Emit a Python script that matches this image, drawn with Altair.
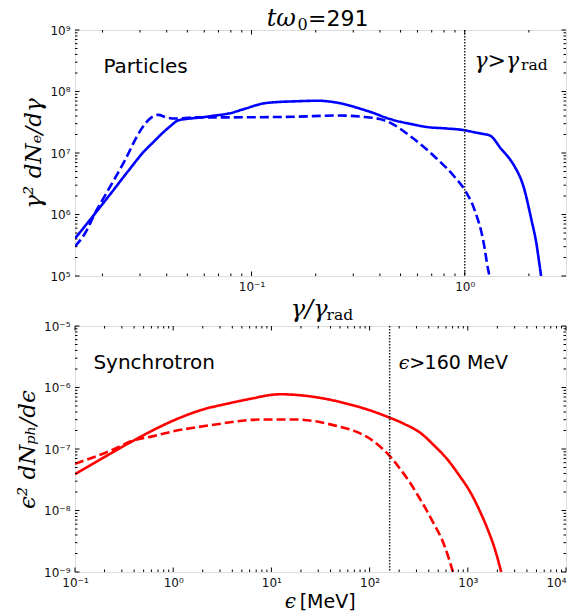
import altair as alt
import pandas as pd

# ---------------- values ----------------
# Top panel: electrons, x = gamma/gamma_rad, y = gamma^2 dN_e/dgamma
e_solid_x = [0.01486, 0.01820, 0.02208, 0.02630, 0.03162, 0.03467, 0.03784, 0.04169,
             0.04529, 0.05129, 0.05834, 0.06761, 0.07780, 0.09333, 0.1114, 0.1349,
             0.1596, 0.2042, 0.2594, 0.3304, 0.3802, 0.4217, 0.4699, 0.5623, 0.6730,
             0.8128, 1.0, 1.096, 1.219, 1.318, 1.486, 1.603, 1.714, 1.888, 2.056,
             2.168, 2.239, 2.265, 2.280]
e_solid_y = [4.07e5, 9.77e5, 2.29e6, 5.01e6, 1.10e7, 1.51e7, 2.04e7, 2.75e7,
             3.39e7, 3.63e7, 3.80e7, 4.07e7, 4.37e7, 5.25e7, 6.31e7, 6.76e7,
             6.92e7, 7.08e7, 6.46e7, 5.13e7, 4.37e7, 3.80e7, 3.39e7, 2.95e7, 2.63e7,
             2.51e7, 2.34e7, 2.19e7, 2.04e7, 1.91e7, 1.15e7, 8.51e6, 6.03e6, 2.82e6, 8.13e5,
             3.39e5, 1.58e5, 1.20e5, 1.0e5]
e_dash_x = [0.01486, 0.01660, 0.01845, 0.02128, 0.02547, 0.02944, 0.03162, 0.03396,
            0.03656, 0.03981, 0.04375, 0.05420, 0.07780, 0.1596, 0.2547, 0.3311,
            0.4217, 0.5623, 0.7228, 0.8974, 1.0, 1.114, 1.219, 1.288, 1.306]
e_dash_y = [3.02e5, 5.01e5, 1.05e6, 2.51e6, 7.59e6, 2.04e7, 2.95e7, 3.80e7,
            4.17e7, 3.80e7, 3.63e7, 3.80e7, 3.80e7, 3.89e7, 4.07e7, 3.89e7,
            3.39e7, 1.82e7, 8.71e6, 4.07e6, 2.51e6, 1.17e6, 3.89e5, 1.26e5, 1.0e5]

# Bottom panel: synchrotron photons, x = eps [MeV], y = eps^2 dN_ph/deps
p_solid_x = [0.1, 0.1995, 0.3491, 0.6310, 0.9638, 1.995, 3.639, 6.310, 10.0, 12.59,
             23.66, 39.81, 64.42, 100.0, 159.2, 223.9, 336.5, 446.7, 628.1, 794.3,
             1086.0, 1318.0, 1607.0, 1905.0, 2188.0]
p_solid_y = [3.89e-8, 7.41e-8, 1.23e-7, 2.04e-7, 2.82e-7, 4.37e-7, 5.50e-7, 6.61e-7,
             7.59e-7, 7.76e-7, 7.24e-7, 6.31e-7, 5.25e-7, 4.27e-7, 3.24e-7, 2.57e-7,
             1.78e-7, 1.17e-7, 6.61e-8, 3.98e-8, 1.86e-8, 1.0e-8, 4.79e-9, 2.24e-9, 1.0e-9]
p_dash_x = [0.1, 0.2360, 0.3926, 0.6310, 0.9638, 2.455, 7.925, 17.30, 28.18, 44.67,
            70.47, 100.0, 131.8, 166.0, 195.0, 251.2, 311.9, 425.6, 580.8, 706.3]
p_dash_y = [5.75e-8, 9.55e-8, 1.38e-7, 1.62e-7, 1.91e-7, 2.45e-7, 3.02e-7, 3.02e-7,
            2.82e-7, 2.40e-7, 1.95e-7, 1.48e-7, 1.05e-7, 7.24e-8, 5.25e-8, 3.02e-8,
            1.74e-8, 7.24e-9, 2.63e-9, 1.0e-9]

gamma_cut = [1.0]
eps_cut = [160.0]

top_x_domain = [0.01486, 2.985]
top_y_domain = [1e5, 1e9]
bot_x_domain = [0.1, 1e4]
bot_y_domain = [1e-9, 1e-5]

top_x_major = [0.1, 1.0]
top_y_major = [1e5, 1e6, 1e7, 1e8, 1e9]
bot_x_major = [0.1, 1.0, 10.0, 100.0, 1000.0, 10000.0]
bot_y_major = [1e-9, 1e-8, 1e-7, 1e-6, 1e-5]


def minors(domain, k0, k1):
    out = []
    for k in range(k0, k1 + 1):
        for m in range(2, 10):
            v = m * 10.0 ** k
            if domain[0] * 1.0001 < v < domain[1] * 0.9999:
                out.append(v)
    return out


top_x_minor = minors(top_x_domain, -2, 0)
top_y_minor = minors(top_y_domain, 5, 8)
bot_x_minor = minors(bot_x_domain, -1, 3)
bot_y_minor = minors(bot_y_domain, -9, -6)

# ---------------- styling ----------------
W, H = 491, 246
SANS = "DejaVu Sans"
SERIF = "DejaVu Serif"
BLUE = "#0000ff"
RED = "#ff0000"

SUP = {'-': '⁻', '0': '⁰', '1': '¹', '2': '²', '3': '³', '4': '⁴',
       '5': '⁵', '6': '⁶', '7': '⁷', '8': '⁸', '9': '⁹'}
labels = ["10" + "".join(SUP[c] for c in str(e)) for e in range(-9, 10)]
LBL = "[" + ",".join("'" + s + "'" for s in labels) + "][round(log(datum.value)/LN10)+9]"


def xaxis(values):
    return alt.Axis(values=values, labelExpr=LBL, ticks=False, domain=False, grid=False,
                    title=None, labelFlush=False, labelPadding=5, labelFont=SANS,
                    labelFontSize=12, labelColor="#111111",
                    labelAlign={"condition": {"test": "datum.value > 5000", "value": "right"},
                                "value": "center"})


def yaxis(values, title):
    return alt.Axis(values=values, labelExpr=LBL, ticks=False, domain=False, grid=False,
                    title=title, titleFont=SERIF, titleFontStyle="italic",
                    titleFontWeight="normal", titleFontSize=23, titleColor="black",
                    titlePadding=4, labelPadding=5, labelFont=SANS, labelFontSize=12,
                    labelColor="#111111")


def tick_layers(xmaj, xmin, ymaj, ymin, xs, ys, xa, ya):
    out = []
    for xv, yv, L in [(xmaj, ymaj, 4.5), (xmin, ymin, 2.5)]:
        dy = pd.DataFrame({"y": yv})
        dx = pd.DataFrame({"x": xv})
        base_y = alt.Chart(dy).mark_rule(color="black", strokeWidth=1)
        base_x = alt.Chart(dx).mark_rule(color="black", strokeWidth=1)
        Y = alt.Y("y:Q", scale=ys, axis=ya)
        X = alt.X("x:Q", scale=xs, axis=xa)
        out.append(base_y.encode(y=Y, x=alt.value(0), x2=alt.value(L)))
        out.append(base_y.encode(y=Y, x=alt.value(W), x2=alt.value(W - L)))
        out.append(base_x.encode(x=X, y=alt.value(0), y2=alt.value(L)))
        out.append(base_x.encode(x=X, y=alt.value(H), y2=alt.value(H - L)))
    return out


def txt(s, x, y, size, font, style="normal", align="left", baseline="alphabetic"):
    return alt.Chart(pd.DataFrame({"t": [s]})).mark_text(
        align=align, baseline=baseline, font=font, fontSize=size, fontStyle=style,
        color="black").encode(text="t:N", x=alt.value(x), y=alt.value(y))


def panel(sx, sy, dx, dy, color, cut, xdom, ydom, xmaj, xmin, ymaj, ymin, ytitle, texts):
    df = pd.DataFrame({
        "x": list(sx) + list(dx),
        "y": list(sy) + list(dy),
        "kind": ["solid"] * len(sx) + ["dashed"] * len(dx),
    })
    xs = alt.Scale(type="log", domain=xdom, nice=False)
    ys = alt.Scale(type="log", domain=ydom, nice=False)
    xa = xaxis(xmaj)
    ya = yaxis(ymaj, ytitle)
    lines = alt.Chart(df).mark_line(color=color, strokeWidth=2.6, clip=True,
                                    interpolate="monotone").encode(
        x=alt.X("x:Q", scale=xs, axis=xa),
        y=alt.Y("y:Q", scale=ys, axis=ya),
        strokeDash=alt.StrokeDash("kind:N", scale=alt.Scale(domain=["solid", "dashed"],
                                  range=[[1, 0], [9, 4]]), legend=None),
        order=alt.Order("x:Q"),
    )
    vline = alt.Chart(pd.DataFrame({"x": cut})).mark_rule(
        color="#222222", strokeWidth=1.5, strokeDash=[1.5, 1.5]).encode(
        x=alt.X("x:Q", scale=xs, axis=xa))
    layers = [lines, vline] + tick_layers(xmaj, xmin, ymaj, ymin, xs, ys, xa, ya) + texts
    return alt.layer(*layers).properties(width=W, height=H)


top_texts = [
    txt("tω", 191.7, -4.5, 24, SERIF, "italic"),
    txt("0", 222.5, -0.5, 16, SERIF),
    txt("=291", 233.0, -4.5, 22, SANS),
    txt("Particles", 28.4, 43.4, 20, SANS),
    txt("γ>γ", 399.4, 37.7, 22, SERIF, "italic"),
    txt("rad", 446.0, 39.5, 15.5, SERIF),
    txt("γ/γ", 215.7, 287.4, 24, SERIF, "italic"),
    txt("rad", 251.5, 290.0, 15.5, SERIF),
]
bot_texts = [
    txt("Synchrotron", 18.4, 42.6, 20, SANS),
    txt("ϵ>", 323.7, 42.6, 19, SERIF, "italic"),
    txt("160 MeV", 349.6, 42.6, 19, SANS),
    txt("ϵ", 209.7, 281.6, 20, SERIF, "italic"),
    txt("[MeV]", 224.7, 281.6, 19, SANS),
]

top = panel(e_solid_x, e_solid_y, e_dash_x, e_dash_y, BLUE, gamma_cut,
            top_x_domain, top_y_domain, top_x_major, top_x_minor, top_y_major, top_y_minor,
            "γ² dNₑ/dγ", top_texts)
bot = panel(p_solid_x, p_solid_y, p_dash_x, p_dash_y, RED, eps_cut,
            bot_x_domain, bot_y_domain, bot_x_major, bot_x_minor, bot_y_major, bot_y_minor,
            "ϵ² dNₚₕ/dϵ", bot_texts)

chart = alt.vconcat(top, bot, spacing=50, bounds="flush").properties(
    padding={"left": 8, "top": -2, "right": 0, "bottom": 0}
).configure_view(stroke="#111111", strokeWidth=1.2).configure(background="white")

chart.save("out.html", embed_options={"renderer": "svg", "actions": False})
